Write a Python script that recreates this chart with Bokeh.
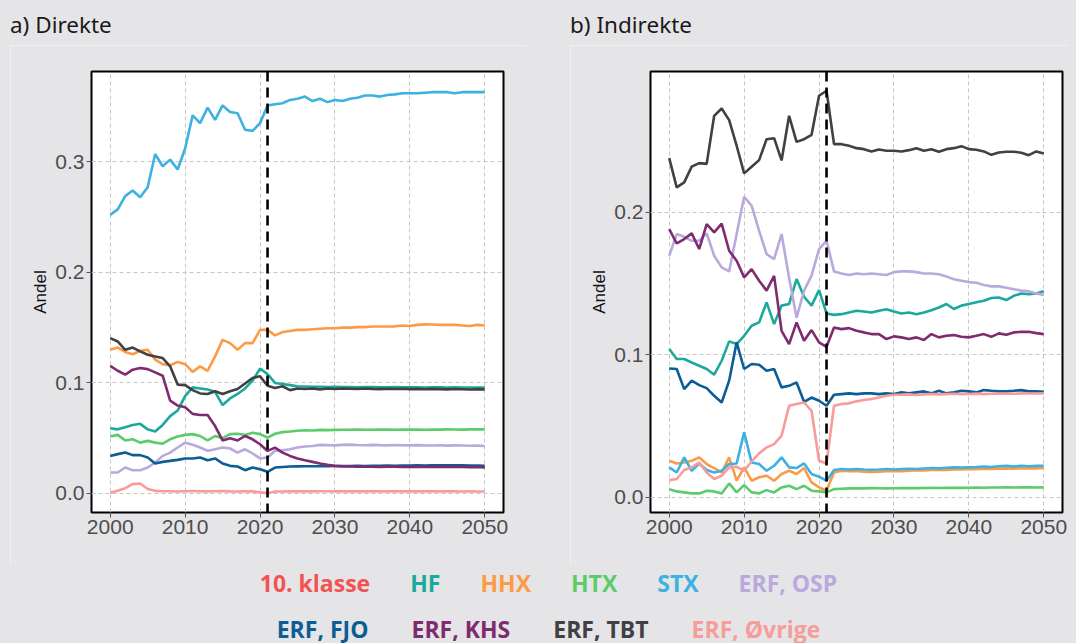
from bokeh.plotting import figure
from bokeh.models import Range1d, FixedTicker, PrintfTickFormatter, Span, Div, GlobalInlineStyleSheet
from bokeh.layouts import column, row
from bokeh.embed import file_html
from bokeh.resources import INLINE

BG = "#e5e5e8"

years = list(range(2000, 2051))
cutoff_year = 2021
x_ticks = [2000, 2010, 2020, 2030, 2040, 2050]
y_ticks_direkte = [0.0, 0.1, 0.2, 0.3]
y_ticks_indirekte = [0.0, 0.1, 0.2]

panel_titles = ["a) Direkte", "b) Indirekte"]
y_label = "Andel"

series_names = ["10. klasse", "HF", "HHX", "HTX", "STX", "ERF, OSP",
                "ERF, FJO", "ERF, KHS", "ERF, TBT", "ERF, Øvrige"]
series_colors = ["#f25250", "#1aa99b", "#fd9a46", "#5ccb6b", "#3cb1e2", "#b9a9dc",
                 "#0c5d95", "#7f2b6f", "#404045", "#f79c9a"]

# ---- a) Direkte ----
direkte_hf = [
    0.059, 0.058, 0.060, 0.062, 0.063, 0.058, 0.056, 0.062, 0.070, 0.075,
    0.088, 0.096, 0.095, 0.094, 0.092, 0.080, 0.086, 0.090, 0.095, 0.102,
    0.113, 0.108, 0.100, 0.099, 0.098, 0.097, 0.0968, 0.0965, 0.0966, 0.0963,
    0.0964, 0.0962, 0.0963, 0.0961, 0.0962, 0.0963, 0.0961, 0.096, 0.0962, 0.0961,
    0.096, 0.0961, 0.0959, 0.096, 0.0961, 0.0959, 0.096, 0.0958, 0.0959, 0.0958, 0.0958]
direkte_hhx = [
    0.130, 0.132, 0.128, 0.126, 0.129, 0.130, 0.121, 0.117, 0.116, 0.119,
    0.117, 0.110, 0.115, 0.111, 0.124, 0.139, 0.136, 0.130, 0.136, 0.136,
    0.148, 0.148, 0.143, 0.146, 0.147, 0.148, 0.148, 0.1485, 0.149, 0.1495,
    0.1495, 0.150, 0.150, 0.1505, 0.1505, 0.151, 0.151, 0.151, 0.1512, 0.152,
    0.1515, 0.1525, 0.153, 0.1528, 0.1525, 0.1525, 0.1525, 0.152, 0.1515, 0.1525, 0.152]
direkte_htx = [
    0.0516, 0.053, 0.048, 0.049, 0.046, 0.0476, 0.046, 0.045, 0.049, 0.0516,
    0.053, 0.0537, 0.052, 0.048, 0.052, 0.050, 0.0537, 0.054, 0.053, 0.055,
    0.0537, 0.0506, 0.054, 0.0555, 0.056, 0.0567, 0.0572, 0.057, 0.0575, 0.0573,
    0.0575, 0.0577, 0.0576, 0.0578, 0.0577, 0.0576, 0.0578, 0.0579, 0.0577, 0.0578,
    0.0579, 0.0578, 0.0577, 0.0579, 0.0578, 0.058, 0.0579, 0.0578, 0.058, 0.0581, 0.058]
direkte_stx = [
    0.252, 0.257, 0.269, 0.274, 0.268, 0.277, 0.307, 0.296, 0.302, 0.293,
    0.312, 0.342, 0.335, 0.349, 0.338, 0.351, 0.345, 0.344, 0.329, 0.328,
    0.335, 0.351, 0.352, 0.353, 0.356, 0.357, 0.359, 0.355, 0.357, 0.354,
    0.356, 0.355, 0.357, 0.358, 0.360, 0.360, 0.359, 0.3605, 0.361, 0.362,
    0.362, 0.362, 0.3625, 0.363, 0.363, 0.363, 0.362, 0.363, 0.363, 0.363, 0.363]
direkte_osp = [
    0.019, 0.019, 0.0235, 0.021, 0.021, 0.0235, 0.028, 0.034, 0.037, 0.0416,
    0.046, 0.044, 0.0416, 0.0386, 0.040, 0.0416, 0.0407, 0.037, 0.040, 0.0362,
    0.0317, 0.0326, 0.0386, 0.039, 0.040, 0.0416, 0.0425, 0.043, 0.044, 0.0437,
    0.0435, 0.044, 0.0442, 0.0438, 0.0436, 0.044, 0.0437, 0.0435, 0.0438, 0.0436,
    0.0435, 0.0437, 0.0435, 0.0434, 0.0436, 0.0433, 0.0435, 0.0434, 0.0432, 0.0433, 0.043]
direkte_fjo = [
    0.034, 0.0356, 0.037, 0.0347, 0.0347, 0.0326, 0.0271, 0.0286, 0.0295, 0.0304,
    0.0317, 0.0317, 0.0326, 0.0301, 0.0317, 0.0271, 0.025, 0.0244, 0.0211, 0.0235,
    0.022, 0.0196, 0.0235, 0.024, 0.0244, 0.0245, 0.0246, 0.0246, 0.0247, 0.0247,
    0.0248, 0.0249, 0.0248, 0.025, 0.0249, 0.0251, 0.025, 0.0252, 0.0251, 0.0253,
    0.0252, 0.0254, 0.0253, 0.0255, 0.0254, 0.0256, 0.0254, 0.0255, 0.0253, 0.0252, 0.025]
direkte_khs = [
    0.1155, 0.111, 0.1075, 0.112, 0.1135, 0.1125, 0.1095, 0.1065, 0.084, 0.0795,
    0.078, 0.072, 0.071, 0.071, 0.061, 0.048, 0.050, 0.048, 0.052, 0.049,
    0.0445, 0.0385, 0.0415, 0.037, 0.034, 0.0317, 0.030, 0.0286, 0.0271, 0.0259,
    0.025, 0.0245, 0.0244, 0.0242, 0.0243, 0.0242, 0.024, 0.0242, 0.0243, 0.0241,
    0.024, 0.0242, 0.0241, 0.024, 0.0241, 0.0242, 0.024, 0.0239, 0.0238, 0.024, 0.0236]
direkte_tbt = [
    0.1405, 0.1375, 0.130, 0.132, 0.1285, 0.1255, 0.124, 0.1225, 0.115, 0.0985,
    0.098, 0.0935, 0.0905, 0.090, 0.0925, 0.090, 0.0925, 0.0945, 0.0995, 0.1045,
    0.106, 0.0975, 0.0955, 0.097, 0.0935, 0.095, 0.0945, 0.095, 0.094, 0.095,
    0.0945, 0.095, 0.0948, 0.0945, 0.095, 0.0946, 0.0944, 0.0948, 0.0945, 0.0947,
    0.0944, 0.0946, 0.0943, 0.0946, 0.0944, 0.0942, 0.0945, 0.0943, 0.0941, 0.0944, 0.094]
direkte_ovr = [
    0.0006, 0.0024, 0.0048, 0.0085, 0.009, 0.004, 0.0024, 0.002, 0.002, 0.0018,
    0.002, 0.0021, 0.002, 0.0019, 0.002, 0.0021, 0.0019, 0.0018, 0.002, 0.0019,
    0.001, 0.0003, 0.0018, 0.0018, 0.0019, 0.0019, 0.002, 0.0019, 0.002, 0.002,
    0.0019, 0.002, 0.0019, 0.0019, 0.002, 0.0019, 0.002, 0.0019, 0.0019, 0.002,
    0.0019, 0.002, 0.0019, 0.0019, 0.002, 0.0019, 0.0019, 0.0018, 0.0019, 0.0018, 0.0018]

# ---- b) Indirekte ----
indirekte_hf = [
    0.104, 0.097, 0.097, 0.0946, 0.0923, 0.090, 0.086, 0.0958, 0.1094, 0.1075,
    0.1133, 0.1204, 0.1227, 0.1368, 0.1215, 0.1345, 0.1356, 0.1531, 0.1407, 0.1345,
    0.1454, 0.129, 0.128, 0.1285, 0.1297, 0.1309, 0.1304, 0.1297, 0.1309, 0.132,
    0.1304, 0.129, 0.1297, 0.1285, 0.1297, 0.1313, 0.1332, 0.1356, 0.1321, 0.1345,
    0.1356, 0.1368, 0.1379, 0.1398, 0.1402, 0.1384, 0.1414, 0.143, 0.1425, 0.143, 0.1445]
indirekte_hhx = [
    0.0256, 0.0237, 0.0244, 0.0256, 0.028, 0.0233, 0.0205, 0.0174, 0.028, 0.0116,
    0.021, 0.0116, 0.014, 0.0151, 0.0116, 0.0163, 0.0186, 0.0163, 0.0205, 0.0104,
    0.0069, 0.0046, 0.0174, 0.0186, 0.0182, 0.0184, 0.0179, 0.0177, 0.018, 0.0182,
    0.0184, 0.0182, 0.0186, 0.0189, 0.0188, 0.0191, 0.0193, 0.0191, 0.0195, 0.0196,
    0.0198, 0.0197, 0.02, 0.0199, 0.0201, 0.0202, 0.0201, 0.0203, 0.0204, 0.0203, 0.0205]
indirekte_htx = [
    0.0057, 0.0041, 0.0034, 0.0027, 0.0027, 0.0046, 0.0041, 0.0027, 0.0097, 0.0034,
    0.0085, 0.0034, 0.0027, 0.005, 0.0034, 0.0069, 0.0081, 0.0057, 0.0081, 0.0046,
    0.0041, 0.0034, 0.0057, 0.006, 0.0062, 0.0063, 0.0062, 0.0064, 0.0063, 0.0062,
    0.0063, 0.0064, 0.0065, 0.0064, 0.0065, 0.0066, 0.0065, 0.0066, 0.0067, 0.0066,
    0.0067, 0.0068, 0.0067, 0.0068, 0.0068, 0.0069, 0.0068, 0.0069, 0.0069, 0.0068, 0.0069]
indirekte_stx = [
    0.021, 0.0174, 0.028, 0.0186, 0.0237, 0.0191, 0.0174, 0.0186, 0.0233, 0.0237,
    0.0455, 0.0244, 0.0233, 0.0186, 0.0221, 0.028, 0.021, 0.0205, 0.0237, 0.0163,
    0.0144, 0.0116, 0.0191, 0.0198, 0.0195, 0.0198, 0.0195, 0.0193, 0.0195, 0.0198,
    0.0195, 0.0198, 0.02, 0.0198, 0.0202, 0.0205, 0.0203, 0.0207, 0.021, 0.0208,
    0.021, 0.0212, 0.0215, 0.0212, 0.0218, 0.022, 0.0215, 0.0221, 0.0218, 0.022, 0.0221]
indirekte_osp = [
    0.1695, 0.1847, 0.1828, 0.180, 0.180, 0.1852, 0.1695, 0.1613, 0.1585, 0.1847,
    0.2109, 0.2046, 0.187, 0.1706, 0.1671, 0.1847, 0.154, 0.126, 0.145, 0.1555,
    0.1742, 0.180, 0.1585, 0.157, 0.156, 0.157, 0.1565, 0.157, 0.1565, 0.156,
    0.158, 0.1585, 0.1585, 0.158, 0.157, 0.157, 0.1565, 0.155, 0.153, 0.152,
    0.151, 0.1505, 0.149, 0.148, 0.148, 0.147, 0.146, 0.145, 0.1445, 0.143, 0.142]
indirekte_fjo = [
    0.0904, 0.090, 0.0759, 0.0818, 0.0787, 0.0766, 0.0712, 0.0665, 0.0818, 0.1087,
    0.090, 0.0935, 0.093, 0.0888, 0.090, 0.0771, 0.0782, 0.0806, 0.067, 0.070,
    0.0677, 0.0642, 0.0719, 0.0724, 0.0729, 0.0724, 0.0729, 0.0729, 0.0724, 0.0729,
    0.0724, 0.0736, 0.0729, 0.0736, 0.0743, 0.0729, 0.0747, 0.0729, 0.0736, 0.0747,
    0.0743, 0.0736, 0.0752, 0.0747, 0.0743, 0.0743, 0.0747, 0.0752, 0.0743, 0.0743, 0.074]
indirekte_khs = [
    0.1882, 0.1781, 0.1812, 0.1852, 0.1742, 0.1917, 0.1859, 0.1921, 0.173, 0.166,
    0.1543, 0.1601, 0.152, 0.145, 0.1554, 0.1168, 0.1075, 0.1227, 0.1098, 0.1173,
    0.1087, 0.1056, 0.1192, 0.118, 0.1187, 0.1168, 0.1157, 0.1145, 0.1145, 0.111,
    0.1129, 0.1122, 0.111, 0.1122, 0.1103, 0.1145, 0.1122, 0.1133, 0.1138, 0.1126,
    0.1122, 0.1133, 0.1145, 0.1126, 0.115, 0.114, 0.1157, 0.1161, 0.1161, 0.1152, 0.1145]
indirekte_tbt = [
    0.238, 0.2175, 0.221, 0.232, 0.2345, 0.234, 0.2677, 0.2728, 0.2647, 0.2467,
    0.2273, 0.232, 0.2366, 0.2513, 0.252, 0.2364, 0.2677, 0.2494, 0.2513, 0.2544,
    0.2818, 0.2853, 0.2478, 0.2478, 0.2467, 0.245, 0.2443, 0.2427, 0.2441, 0.2432,
    0.2432, 0.2427, 0.2436, 0.245, 0.2432, 0.2443, 0.2425, 0.2443, 0.245, 0.2464,
    0.2443, 0.2439, 0.2427, 0.2403, 0.242, 0.2425, 0.2425, 0.2418, 0.2401, 0.2427, 0.2413]
indirekte_ovr = [
    0.012, 0.0128, 0.0191, 0.021, 0.0244, 0.0174, 0.0128, 0.0151, 0.021, 0.0214,
    0.0186, 0.0251, 0.0308, 0.035, 0.0373, 0.0432, 0.0642, 0.0654, 0.0665, 0.0607,
    0.0256, 0.0237, 0.0642, 0.0654, 0.0659, 0.0673, 0.0682, 0.0689, 0.070, 0.0712,
    0.0719, 0.072, 0.0722, 0.0718, 0.0722, 0.0725, 0.0722, 0.0724, 0.0726, 0.0724,
    0.0725, 0.0727, 0.0724, 0.0726, 0.0728, 0.0727, 0.0726, 0.0729, 0.0728, 0.0728, 0.0729]

direkte = {"HF": direkte_hf, "HHX": direkte_hhx, "HTX": direkte_htx, "STX": direkte_stx,
           "ERF, OSP": direkte_osp, "ERF, FJO": direkte_fjo, "ERF, KHS": direkte_khs,
           "ERF, TBT": direkte_tbt, "ERF, Øvrige": direkte_ovr}
indirekte = {"HF": indirekte_hf, "HHX": indirekte_hhx, "HTX": indirekte_htx, "STX": indirekte_stx,
             "ERF, OSP": indirekte_osp, "ERF, FJO": indirekte_fjo, "ERF, KHS": indirekte_khs,
             "ERF, TBT": indirekte_tbt, "ERF, Øvrige": indirekte_ovr}

color_of = dict(zip(series_names, series_colors))


def make_panel(data, yticks, y_lo, y_hi, width, b_left, b_right):
    p = figure(width=width, height=519, output_backend="svg", toolbar_location=None,
               x_range=Range1d(1997.5, 2052.5), y_range=Range1d(y_lo, y_hi),
               min_border_left=b_left, min_border_right=b_right,
               min_border_top=26, min_border_bottom=52)
    p.background_fill_color = "white"
    p.border_fill_color = BG
    p.outline_line_color = "black"
    p.outline_line_width = 2
    for ax in (p.xaxis[0], p.yaxis[0]):
        ax.axis_line_color = None
        ax.major_tick_line_color = "#555555"
        ax.major_tick_out = 5
        ax.major_tick_in = 0
        ax.minor_tick_line_color = None
        ax.major_label_text_font = "Liberation Sans"
        ax.major_label_text_font_size = "21px"
        ax.major_label_text_color = "#4d4d4d"
        ax.major_label_standoff = 2
    p.xaxis[0].ticker = FixedTicker(ticks=x_ticks)
    p.yaxis[0].ticker = FixedTicker(ticks=yticks)
    p.yaxis[0].formatter = PrintfTickFormatter(format="%.1f")
    p.yaxis[0].axis_label = y_label
    p.yaxis[0].axis_label_text_font = "Liberation Sans"
    p.yaxis[0].axis_label_text_font_style = "normal"
    p.yaxis[0].axis_label_text_font_size = "17px"
    p.yaxis[0].axis_label_text_color = "#111111"
    p.yaxis[0].axis_label_standoff = 2
    for g in (p.xgrid[0], p.ygrid[0]):
        g.grid_line_color = "#c6c6c6"
        g.grid_line_dash = "4 3"
        g.grid_line_width = 1
    for name in series_names:
        if name in data:
            p.line(years, data[name], line_color=color_of[name], line_width=2.6)
    p.add_layout(Span(location=cutoff_year, dimension="height", line_color="black",
                      line_width=2.6, line_dash="10 6"))
    p.styles = {"outline": "1px solid #f3f3f5", "outline-offset": "-1px"}
    return p


pa = make_panel(direkte, y_ticks_direkte, -0.0172, 0.3817, 517, 81, 24)
pb = make_panel(indirekte, y_ticks_indirekte, -0.0107, 0.2988, 498, 80, 6)
pa.margin = (0, 0, 0, 2)
pb.margin = (0, 0, 0, 43)

title_style = {"font-family": "Noto Sans", "font-size": "22.5px", "color": "#1a1a1a",
               "line-height": "34px"}
ta = Div(text=panel_titles[0], width=517, height=37, margin=(0, 0, 0, 2), styles=title_style)
tb = Div(text=panel_titles[1], width=498, height=37, margin=(0, 0, 0, 43), styles=title_style)

row1_items = series_names[:6]
row2_items = series_names[6:]


def legend_row(items, height, gap):
    spans = "".join(
        f'<span style="color:{color_of[n]};margin:0 {gap}px;">{n}</span>' for n in items)
    return (f'<div style="height:{height}px;line-height:{height}px;white-space:nowrap;'
            f'text-align:center;">{spans}</div>')


legend_html = (
    '<div style="width:1060px;padding-left:21px;box-sizing:border-box;'
    'font-family:\'Open Sans\';font-weight:bold;font-size:23px;">'
    + legend_row(row1_items, 38, 20) + legend_row(row2_items, 54, 21.5) + '</div>')
legend = Div(text=legend_html, width=1060, height=71, margin=(0, 0, 0, 0),
             styles={"overflow": "visible"})

layout = column(row(ta, tb, spacing=0), row(pa, pb, spacing=0), legend, spacing=0,
                margin=(8, 0, 0, 8),
                stylesheets=[GlobalInlineStyleSheet(
                    css="html, body { background-color: #e5e5e8; overflow: hidden; }")])
layout.styles = {"background-color": BG}

open("out.html", "w").write(file_html(layout, INLINE))
